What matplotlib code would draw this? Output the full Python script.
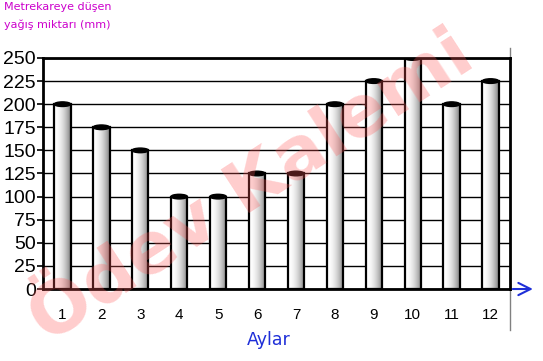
import matplotlib.pyplot as plt
import numpy as np
from matplotlib.patches import Ellipse
from matplotlib.lines import Line2D

months = ['1', '2', '3', '4', '5', '6', '7', '8', '9', '10', '11', '12']
rain = [200, 175, 150, 100, 100, 125, 125, 200, 225, 250, 200, 225]
yticks = np.arange(0, 251, 25)

title_txt = 'Metrekareye düşen\nyağış miktarı (mm)'
xlabel_txt = 'Aylar'
watermark = 'Ödev Kalemi'


def main():
    fig = plt.figure(figsize=(5.43, 3.61), dpi=100)
    ax = fig.add_axes([0.0792, 0.1994, 0.860, 0.640])

    x = np.arange(1, len(months) + 1)
    bars = ax.bar(x, rain, width=0.42, facecolor='none', edgecolor='black',
                  linewidth=1.6, zorder=3)

    # cylinder look: white left side, gray right side
    grad = np.linspace(0, 1, 64)
    shade = 1.0 - 0.5 * grad ** 2
    img = np.tile(shade, (2, 1))
    for b in bars:
        x0, w, h = b.get_x(), b.get_width(), b.get_height()
        im = ax.imshow(img, cmap='gray', vmin=0, vmax=1, aspect='auto',
                       extent=[x0, x0 + w, 0, h], zorder=2, interpolation='bilinear')
        im.set_clip_path(b)
        ax.add_patch(Ellipse((x0 + w / 2, h), w, 5, facecolor='black',
                             edgecolor='black', zorder=4))

    ax.set_xlim(0.5, 12.5)
    ax.set_ylim(0, 250)
    ax.set_yticks(yticks)
    ax.set_xticks(x)
    ax.set_xticklabels(months, fontsize=11, family='Liberation Sans')
    ax.set_yticklabels([str(v) for v in yticks], fontsize=14, family='Liberation Sans')
    ax.tick_params(axis='x', length=0, pad=14)
    ax.tick_params(axis='y', length=4, width=1.2, pad=1)
    ax.yaxis.grid(True, color='black', linewidth=1.0, zorder=1)
    ax.set_axisbelow(True)
    for s in ax.spines.values():
        s.set_linewidth(2)
        s.set_color('black')

    # gray line at the right edge and blue arrow
    fig.add_artist(Line2D([0.939, 0.939], [0.087, 0.867], color='gray',
                          linewidth=1, transform=fig.transFigure, zorder=0))
    ax.annotate('', xy=(1.055, 0), xytext=(1.0, 0), xycoords='axes fraction',
                arrowprops=dict(arrowstyle='->', color='#1f2fd8', lw=1.5,
                                mutation_scale=22), annotation_clip=False)

    fig.text(0.008, 0.995, title_txt, color='#cc00cc', fontsize=8,
             va='top', ha='left', linespacing=1.9)
    fig.text(0.494, 0.058, xlabel_txt, color='#1f2fd8', fontsize=12.5,
             ha='center', va='center')

    fig.text(0.465, 0.48, watermark, color='#ff5a5a', alpha=0.3, fontsize=52,
             fontweight='bold', rotation=33, ha='center', va='center', zorder=10)

    plt.savefig('out.png', dpi=100)


if __name__ == '__main__':
    main()
